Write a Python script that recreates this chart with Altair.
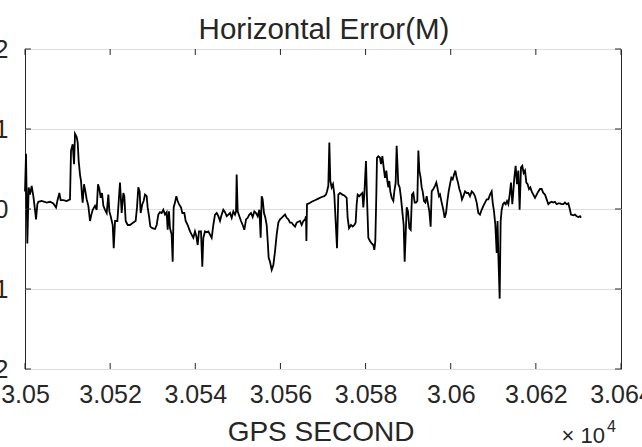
import altair as alt
import pandas as pd

TITLE = "Horizontal Error(M)"
X_TITLE = "GPS SECOND"
X_EXPONENT = "× 10"
X_EXPONENT_POWER = "4"
X_TICKS = [30500, 30520, 30540, 30560, 30580, 30600, 30620, 30640]
Y_TICKS = [-2, -1, 0, 1, 2]

GPS_SECOND = [
    30500.00, 30500.24, 30500.55, 30500.86, 30501.18, 30501.57, 30501.96, 30502.35, 30502.59, 30502.90,
    30503.14, 30503.92, 30505.09, 30505.88, 30506.66, 30507.29, 30507.60, 30508.07, 30508.38, 30509.01,
    30509.79, 30510.57, 30510.81, 30511.20, 30511.52, 30511.75, 30512.14, 30512.38, 30512.61, 30512.92,
    30513.16, 30513.40, 30513.55, 30513.86, 30514.18, 30514.49, 30514.88, 30515.27, 30515.59, 30515.90,
    30516.45, 30516.84, 30517.15, 30517.47, 30517.78, 30518.09, 30518.41, 30518.80, 30519.19, 30519.58,
    30519.82, 30520.13, 30520.60, 30520.84, 30521.15, 30521.70,
    30522.31, 30522.71, 30523.10, 30523.33, 30523.65, 30524.12, 30524.66, 30525.45, 30525.99, 30526.31,
    30526.62, 30526.93, 30527.17, 30527.56, 30527.87, 30528.19, 30528.58, 30528.81, 30529.13, 30529.44,
    30529.91, 30530.54, 30530.93, 30531.32, 30531.71, 30532.10, 30532.49, 30532.89, 30533.28, 30533.51,
    30533.82, 30534.06, 30534.45, 30534.69, 30534.92, 30535.23, 30535.55, 30535.86, 30536.17, 30536.64,
    30536.96, 30537.43, 30537.74, 30538.21, 30538.76, 30539.15, 30539.54, 30539.93, 30540.25, 30540.56,
    30540.87, 30541.34, 30541.65, 30541.89, 30542.28, 30542.67, 30543.06,
    30543.85, 30544.24, 30544.63, 30545.03, 30545.42, 30545.81, 30546.20, 30546.59, 30546.98, 30547.38,
    30547.77, 30548.16, 30548.55, 30548.94, 30549.33, 30549.57, 30549.72, 30549.96, 30550.35, 30550.74,
    30551.13, 30551.52, 30551.92, 30552.31, 30552.70, 30553.09, 30553.48, 30553.87, 30554.27, 30554.66,
    30555.05, 30555.36, 30555.60, 30555.83, 30556.14, 30556.46, 30556.77, 30557.01, 30557.24, 30557.55,
    30557.95, 30558.34, 30558.73, 30559.12, 30559.51, 30559.90, 30560.30, 30560.69, 30561.08, 30561.47,
    30561.86, 30562.25, 30562.64, 30563.04, 30563.43, 30563.82, 30564.21, 30564.60, 30564.99, 30565.38,
    30565.78, 30566.01, 30566.10,
    30566.24, 30566.71, 30567.34, 30568.12, 30568.90, 30569.69, 30570.31, 30570.70, 30570.94, 30571.25,
    30571.49, 30571.72, 30572.03, 30572.35, 30572.66, 30572.97, 30573.29, 30573.60, 30573.99, 30574.54,
    30575.01, 30575.56, 30575.79, 30576.11, 30576.58, 30576.97, 30577.36, 30577.67, 30577.91, 30578.14,
    30578.53, 30578.85, 30579.24, 30579.47, 30579.71, 30579.86, 30580.10, 30580.33, 30580.65, 30581.04,
    30581.43, 30581.82, 30582.06, 30582.29, 30582.53, 30582.68, 30583.00, 30583.39, 30583.62, 30583.94,
    30584.25, 30584.56, 30584.88, 30585.11, 30585.35, 30585.58, 30585.81, 30586.13, 30586.52, 30586.75,
    30587.07, 30587.30, 30587.69, 30588.01, 30588.32, 30588.63, 30588.95, 30589.18,
    30589.66, 30589.97, 30590.28, 30590.60, 30590.91, 30591.22, 30591.54, 30591.85, 30592.16, 30592.40,
    30592.63, 30592.94, 30593.18, 30593.41, 30593.73, 30594.04, 30594.35, 30594.67, 30594.98, 30595.29,
    30595.53, 30595.92, 30596.31, 30596.62, 30596.94, 30597.25, 30597.49, 30597.88, 30598.27, 30598.58,
    30598.90, 30599.21, 30599.52, 30599.84, 30600.15, 30600.46, 30600.78, 30601.09, 30601.40, 30601.71,
    30602.03, 30602.34, 30602.65, 30602.97, 30603.36, 30603.75, 30604.14, 30604.53, 30604.93, 30605.32,
    30605.71, 30606.10, 30606.49, 30606.88, 30607.27, 30607.67, 30608.06, 30608.45, 30608.84, 30609.23,
    30609.62, 30609.86, 30610.17, 30610.48, 30610.80, 30611.00, 30611.20, 30611.50, 30611.73, 30611.97,
    30612.28, 30612.59, 30612.91, 30613.22, 30613.53, 30613.85, 30614.16, 30614.47, 30614.71, 30614.94,
    30615.25, 30615.57, 30615.88, 30616.19, 30616.51, 30616.82, 30617.13, 30617.45, 30617.76, 30618.07,
    30618.39, 30618.70, 30619.01, 30619.40, 30619.80, 30620.19, 30620.58, 30620.97, 30621.36, 30621.75,
    30622.15, 30622.54, 30622.93, 30623.32, 30623.71, 30624.10, 30624.49, 30624.89, 30625.28, 30625.67,
    30626.06, 30626.45, 30626.84, 30627.23, 30627.63, 30628.02, 30628.25, 30628.80, 30629.19, 30629.58,
    30629.98, 30630.37, 30630.60,
]

HORIZONTAL_ERROR = [
    0.22, 0.69, -0.43, 0.27, 0.18, 0.29, 0.16, -0.01, -0.13, 0.06,
    0.09, 0.10, 0.08, 0.09, 0.07, 0.02, 0.10, 0.20, 0.11, 0.11,
    0.10, 0.12, 0.73, 0.81, 0.56, 0.94, 0.90, 0.83, 0.60, 0.43,
    0.35, 0.16, 0.08, 0.31, 0.22, 0.12, 0.04, -0.15, -0.07, -0.01,
    0.04, -0.01, 0.31, 0.25, 0.14, 0.20, 0.04, -0.01, -0.05, 0.18,
    -0.03, -0.09, -0.20, -0.49, -0.15, -0.15,
    0.33, -0.05, 0.20, 0.16, -0.15, -0.20, -0.20, -0.17, -0.15, 0.02,
    0.27, 0.22, -0.05, 0.06, 0.10, 0.18, 0.16, 0.02, -0.09, -0.22,
    -0.24, -0.25, -0.20, -0.07, -0.04, -0.05, -0.01, -0.07, -0.04, -0.26,
    -0.03, -0.24, -0.32, -0.66, 0.02, 0.08, 0.16, 0.10, 0.06, 0.02,
    -0.05, -0.05, -0.15, -0.20, -0.28, -0.32, -0.36, -0.28, -0.34, -0.45,
    -0.28, -0.28, -0.72, -0.36, -0.28, -0.29, -0.28,
    -0.36, -0.20, -0.07, -0.05, -0.09, -0.15, -0.07, -0.01, -0.04, -0.09,
    -0.07, -0.05, -0.11, -0.03, -0.07, -0.03, 0.43, -0.03, -0.09, -0.15,
    -0.20, -0.26, -0.13, -0.11, -0.07, -0.05, -0.10, -0.03, -0.05, -0.09,
    -0.01, -0.36, 0.16, 0.12, -0.05, -0.11, -0.20, -0.40, -0.61, -0.66,
    -0.76, -0.70, -0.53, -0.32, -0.17, -0.13, -0.11, -0.09, -0.07, -0.11,
    -0.13, -0.17, -0.17, -0.20, -0.22, -0.17, -0.16, -0.15, -0.20, -0.15,
    -0.13, -0.09, -0.40,
    0.06, 0.07, 0.09, 0.11, 0.13, 0.15, 0.16, 0.18, 0.22, 0.29,
    0.83, 0.35, 0.27, 0.31, 0.18, -0.15, -0.49, 0.18, 0.20, 0.18,
    0.17, 0.14, -0.11, -0.24, -0.20, -0.22, -0.20, -0.17, 0.06, 0.18,
    0.16, 0.18, 0.20, 0.02, 0.18, 0.35, 0.60, 0.14, -0.36, -0.40,
    -0.43, -0.45, -0.51, -0.40, 0.18, 0.64, 0.66, 0.64, 0.56, 0.66,
    0.52, 0.39, 0.48, 0.35, 0.27, 0.35, 0.22, 0.14, 0.10, 0.22,
    0.33, 0.79, 0.31, 0.27, 0.14, -0.03, -0.20, -0.66,
    0.02, -0.03, -0.24, -0.26, 0.18, 0.20, 0.08, 0.08, 0.10, 0.73,
    0.48, 0.39, 0.27, 0.22, 0.10, 0.08, 0.16, 0.06, -0.03, -0.22,
    0.22, 0.25, 0.29, 0.33, 0.25, 0.16, 0.18, 0.08, -0.01, -0.11,
    -0.05, 0.10, 0.22, 0.31, 0.39, 0.37, 0.43, 0.48, 0.39, 0.33,
    0.25, 0.20, 0.12, 0.16, 0.22, 0.20, 0.20, 0.16, 0.22, 0.20,
    0.16, 0.08, -0.05, -0.07, -0.01, 0.04, 0.08, 0.12, 0.12, 0.18,
    0.22, 0.08, -0.03, -0.20, -0.55, -0.15, -0.60, -1.12, -0.15, -0.01,
    0.06, 0.08, 0.06, 0.10, 0.06, 0.18, 0.33, 0.06, 0.22, 0.39,
    0.54, 0.31, 0.48, -0.01, 0.52, 0.54, 0.45, 0.48, 0.33, 0.31,
    0.25, 0.27, 0.22, 0.18, 0.14, 0.18, 0.22, 0.25, 0.25, 0.20,
    0.18, 0.12, 0.06, 0.08, 0.09, 0.08, 0.09, 0.06, 0.07, 0.07,
    0.06, 0.06, 0.08, 0.06, 0.07, -0.01, -0.07, -0.08, -0.07, -0.09,
    -0.10, -0.09, -0.11,
]

FONT = "Liberation Sans"
TEXT_COLOR = "#262626"
W, H = 596, 320
TICK_LEN = 6

df = pd.DataFrame({"t": GPS_SECOND, "v": HORIZONTAL_ERROR})
xt = pd.DataFrame({"t": X_TICKS})
yt = pd.DataFrame({"v": Y_TICKS})

xscale = alt.Scale(domain=[X_TICKS[0], X_TICKS[-1]], nice=False, zero=False)
yscale = alt.Scale(domain=[Y_TICKS[0], Y_TICKS[-1]], nice=False, zero=False)

x_axis = alt.Axis(
    values=X_TICKS,
    labelExpr="format(datum.value / 10000, '.4~f')",
    title=None,
    grid=False,
    ticks=False,
    tickSize=0,
    domain=False,
    labelPadding=13,
    labelFontSize=25,
    labelFont=FONT,
    labelColor=TEXT_COLOR,
    labelFlush=False,
    labelOverlap=False,
)
y_axis = alt.Axis(
    values=Y_TICKS,
    format="d",
    title=None,
    grid=True,
    gridColor="#dedede",
    gridWidth=1,
    ticks=False,
    tickSize=0,
    domain=False,
    labelPadding=17,
    labelFontSize=25,
    labelFont=FONT,
    labelColor=TEXT_COLOR,
    labelFlush=False,
    labelOverlap=False,
)

X = alt.X("t:Q", scale=xscale, axis=x_axis)
Y = alt.Y("v:Q", scale=yscale, axis=y_axis)

line = alt.Chart(df).mark_line(color="black", strokeWidth=1.8).encode(x=X, y=Y)

tick_style = dict(color=TEXT_COLOR, strokeWidth=1)
x_bottom = alt.Chart(xt).mark_rule(**tick_style).encode(
    x=X, y=alt.value(H), y2=alt.value(H - TICK_LEN)
)
x_top = alt.Chart(xt).mark_rule(**tick_style).encode(
    x=X, y=alt.value(0), y2=alt.value(TICK_LEN)
)
y_left = alt.Chart(yt).mark_rule(**tick_style).encode(
    y=Y, x=alt.value(0), x2=alt.value(TICK_LEN)
)
y_right = alt.Chart(yt).mark_rule(**tick_style).encode(
    y=Y, x=alt.value(W), x2=alt.value(W - TICK_LEN)
)


def label(text, x, y, size, align="center"):
    return alt.Chart(pd.DataFrame({"s": [text]})).mark_text(
        font=FONT, fontSize=size, color=TEXT_COLOR, align=align, baseline="alphabetic"
    ).encode(text="s:N", x=alt.value(x), y=alt.value(y))


title = label(TITLE, 299, -10, 29.5)
xtitle = label(X_TITLE, 296, 392, 28)
expo = label(X_EXPONENT, 580, 394, 22, align="right")
expo_pow = label(X_EXPONENT_POWER, 582, 383, 16, align="left")

chart = alt.layer(line, x_bottom, x_top, y_left, y_right, title, xtitle, expo, expo_pow).properties(
    width=W,
    height=H,
    autosize=alt.AutoSizeParams(type="none"),
    padding={"left": 25, "top": 49, "right": 21, "bottom": 78},
    background="white",
).configure_view(stroke=TEXT_COLOR, strokeWidth=1)

chart.save("out.html", embed_options={"renderer": "svg", "actions": False})
